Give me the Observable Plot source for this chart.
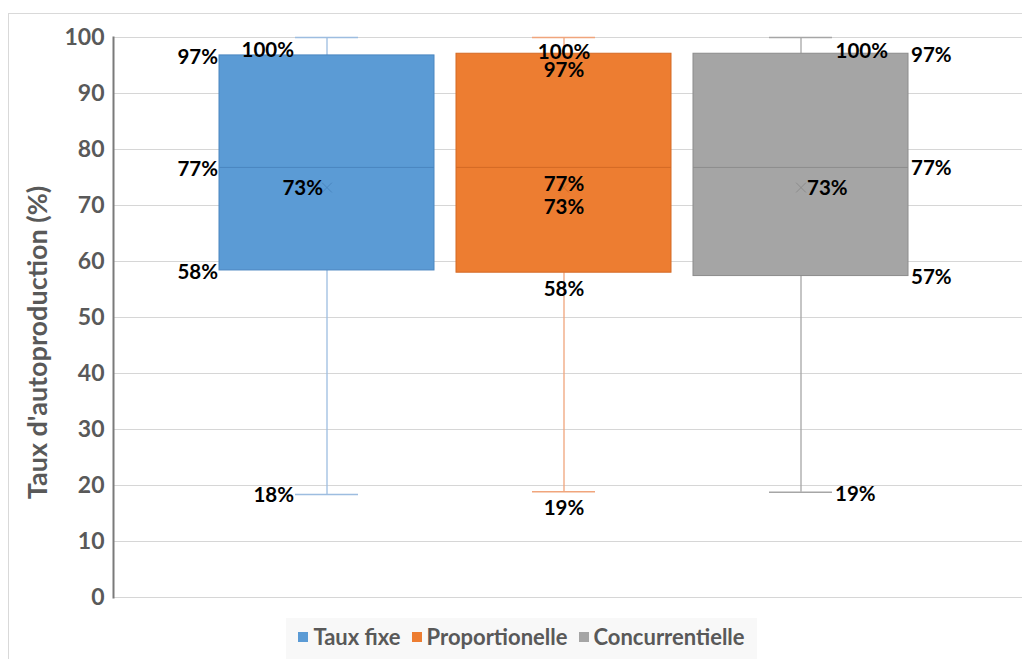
<!DOCTYPE html>
<html>
<head>
<meta charset="utf-8">
<script src="https://cdn.jsdelivr.net/npm/d3@7"></script>
<script src="https://cdn.jsdelivr.net/npm/@observablehq/plot@0.6"></script>
<style>
  html, body { margin: 0; padding: 0; background: #fff; overflow: hidden; width: 1022px; height: 659px; }
  #frame { position: absolute; left: 8px; top: 13px; width: 1100px; height: 700px; border: 1px solid #d9d9d9; box-sizing: border-box; }
  #chart { position: absolute; left: 0; top: 0; }
  #legend { position: absolute; left: 286px; top: 618px; width: 471px; height: 45px; background: #f8f8f8;
            display: flex; align-items: center; justify-content: center; gap: 11px;
            font: bold 22px Lato, sans-serif; color: #595959; padding-bottom: 8px; box-sizing: border-box; }
  #legend .item { display: flex; align-items: center; gap: 5px; }
  #legend .sw { width: 10px; height: 10px; display: inline-block; }
</style>
</head>
<body>
<div id="frame"></div>
<div id="chart"></div>
<div id="legend"></div>
<script>
// ---- data ----
const series  = ["Taux fixe", "Proportionelle", "Concurrentielle"];
const fills   = ["#5b9bd5", "#ed7d31", "#a5a5a5"];
const mins    = [18.4, 18.9, 18.8];
const q1s     = [58.4, 58.0, 57.4];
const medians = [76.8, 76.8, 76.8];
const means   = [73.2, 73.2, 73.2];
const q3s     = [96.8, 97.1, 97.1];
const maxs    = [100, 100, 100];
const yTicks  = [0, 10, 20, 30, 40, 50, 60, 70, 80, 90, 100];
const yTitle  = "Taux d'autoproduction (%)";

// ---- styling (not data) ----
const strokes  = ["#4a86c0", "#d46a25", "#8c8c8c"];
const whiskers = ["#9dbde0", "#f0a57c", "#a6a6a6"];
const sides    = ["left", "below", "right"];

const rows = series.map((s, i) => ({
  series: s, min: mins[i], q1: q1s[i], median: medians[i], mean: means[i], q3: q3s[i], max: maxs[i]
}));

const W = 1022, H = 610;
const bandHalf = 108, capHalf = 32;

function labelPlacement(side, key) {
  if (side === "left") {
    if (key === "max") return {dx: -capHalf - 1, dy: 13, textAnchor: "end"};
    if (key === "min") return {dx: -capHalf - 1, dy: 1, textAnchor: "end"};
    if (key === "mean") return {dx: -4, dy: 1, textAnchor: "end"};
    return {dx: -bandHalf - 1, dy: 2, textAnchor: "end"};
  }
  if (side === "right") {
    if (key === "max") return {dx: 87, dy: 14, textAnchor: "end"};
    if (key === "min") return {dx: capHalf + 2, dy: 2, textAnchor: "start"};
    if (key === "mean") return {dx: 6, dy: 1, textAnchor: "start"};
    return {dx: bandHalf + 2, dy: 1.5, textAnchor: "start"};
  }
  // below
  if (key === "max") return {dx: 0, dy: 15, textAnchor: "middle"};
  if (key === "mean") return {dx: 0, dy: 20, textAnchor: "middle"};
  return {dx: 0, dy: 17, textAnchor: "middle"};
}

const marks = [];
marks.push(Plot.ruleY(yTicks, {stroke: "#d6d6d6", strokeWidth: 1}));

rows.forEach((d, i) => {
  marks.push(Plot.ruleX([d], {x: "series", y1: "q3", y2: "max", stroke: whiskers[i], strokeWidth: 1.3}));
  marks.push(Plot.ruleX([d], {x: "series", y1: "min", y2: "q1", stroke: whiskers[i], strokeWidth: 1.3}));
  marks.push(Plot.tickY([d], {x: "series", y: "max", stroke: whiskers[i], strokeWidth: 1.5, insetLeft: 76, insetRight: 76}));
  marks.push(Plot.tickY([d], {x: "series", y: "min", stroke: whiskers[i], strokeWidth: 1.5, insetLeft: 76, insetRight: 76}));
  marks.push(Plot.barY([d], {x: "series", y1: "q1", y2: "q3", fill: fills[i], stroke: strokes[i], strokeWidth: 1}));
  marks.push(Plot.tickY([d], {x: "series", y: "median", stroke: strokes[i], strokeWidth: 1}));
  marks.push(Plot.dot([d], {x: "series", y: "mean", symbol: "times", r: 4.5, stroke: strokes[i], strokeWidth: 1}));
  ["max", "q3", "median", "mean", "q1", "min"].forEach(key => {
    const p = labelPlacement(sides[i], key);
    marks.push(Plot.text([d], {
      x: "series", y: key, text: v => Math.round(v[key]) + "%",
      dx: p.dx, dy: p.dy, textAnchor: p.textAnchor, lineAnchor: "middle",
      fontSize: 20.5, fontWeight: "bold", fill: "#000"
    }));
  });
});

marks.push(Plot.axisY(yTicks, {tickSize: 0, tickPadding: 9, fontSize: 23, fontWeight: "bold", color: "#595959", label: null}));
marks.push(Plot.frame({anchor: "left", stroke: "#7a7a7a", strokeWidth: 2}));
marks.push(Plot.text([yTitle], {frameAnchor: "left", dx: -75, dy: 25, rotate: -90, textAnchor: "middle", lineAnchor: "middle",
  fontSize: 27, fontWeight: "bold", fill: "#595959"}));

const chart = Plot.plot({
  width: W, height: H,
  marginLeft: 113, marginRight: 0, marginTop: 37, marginBottom: 13,
  style: {fontFamily: "Lato, sans-serif", background: "transparent", overflow: "visible"},
  x: {domain: series, range: [218, 909], paddingInner: 0.092, paddingOuter: 0, axis: null},
  y: {domain: [0, 100], axis: null},
  marks
});
document.getElementById("chart").appendChild(chart);

const legend = document.getElementById("legend");
series.forEach((s, i) => {
  const item = document.createElement("span");
  item.className = "item";
  const sw = document.createElement("span");
  sw.className = "sw";
  sw.style.background = fills[i];
  const t = document.createElement("span");
  t.textContent = s;
  item.appendChild(sw);
  item.appendChild(t);
  legend.appendChild(item);
});
</script>
</body>
</html>
